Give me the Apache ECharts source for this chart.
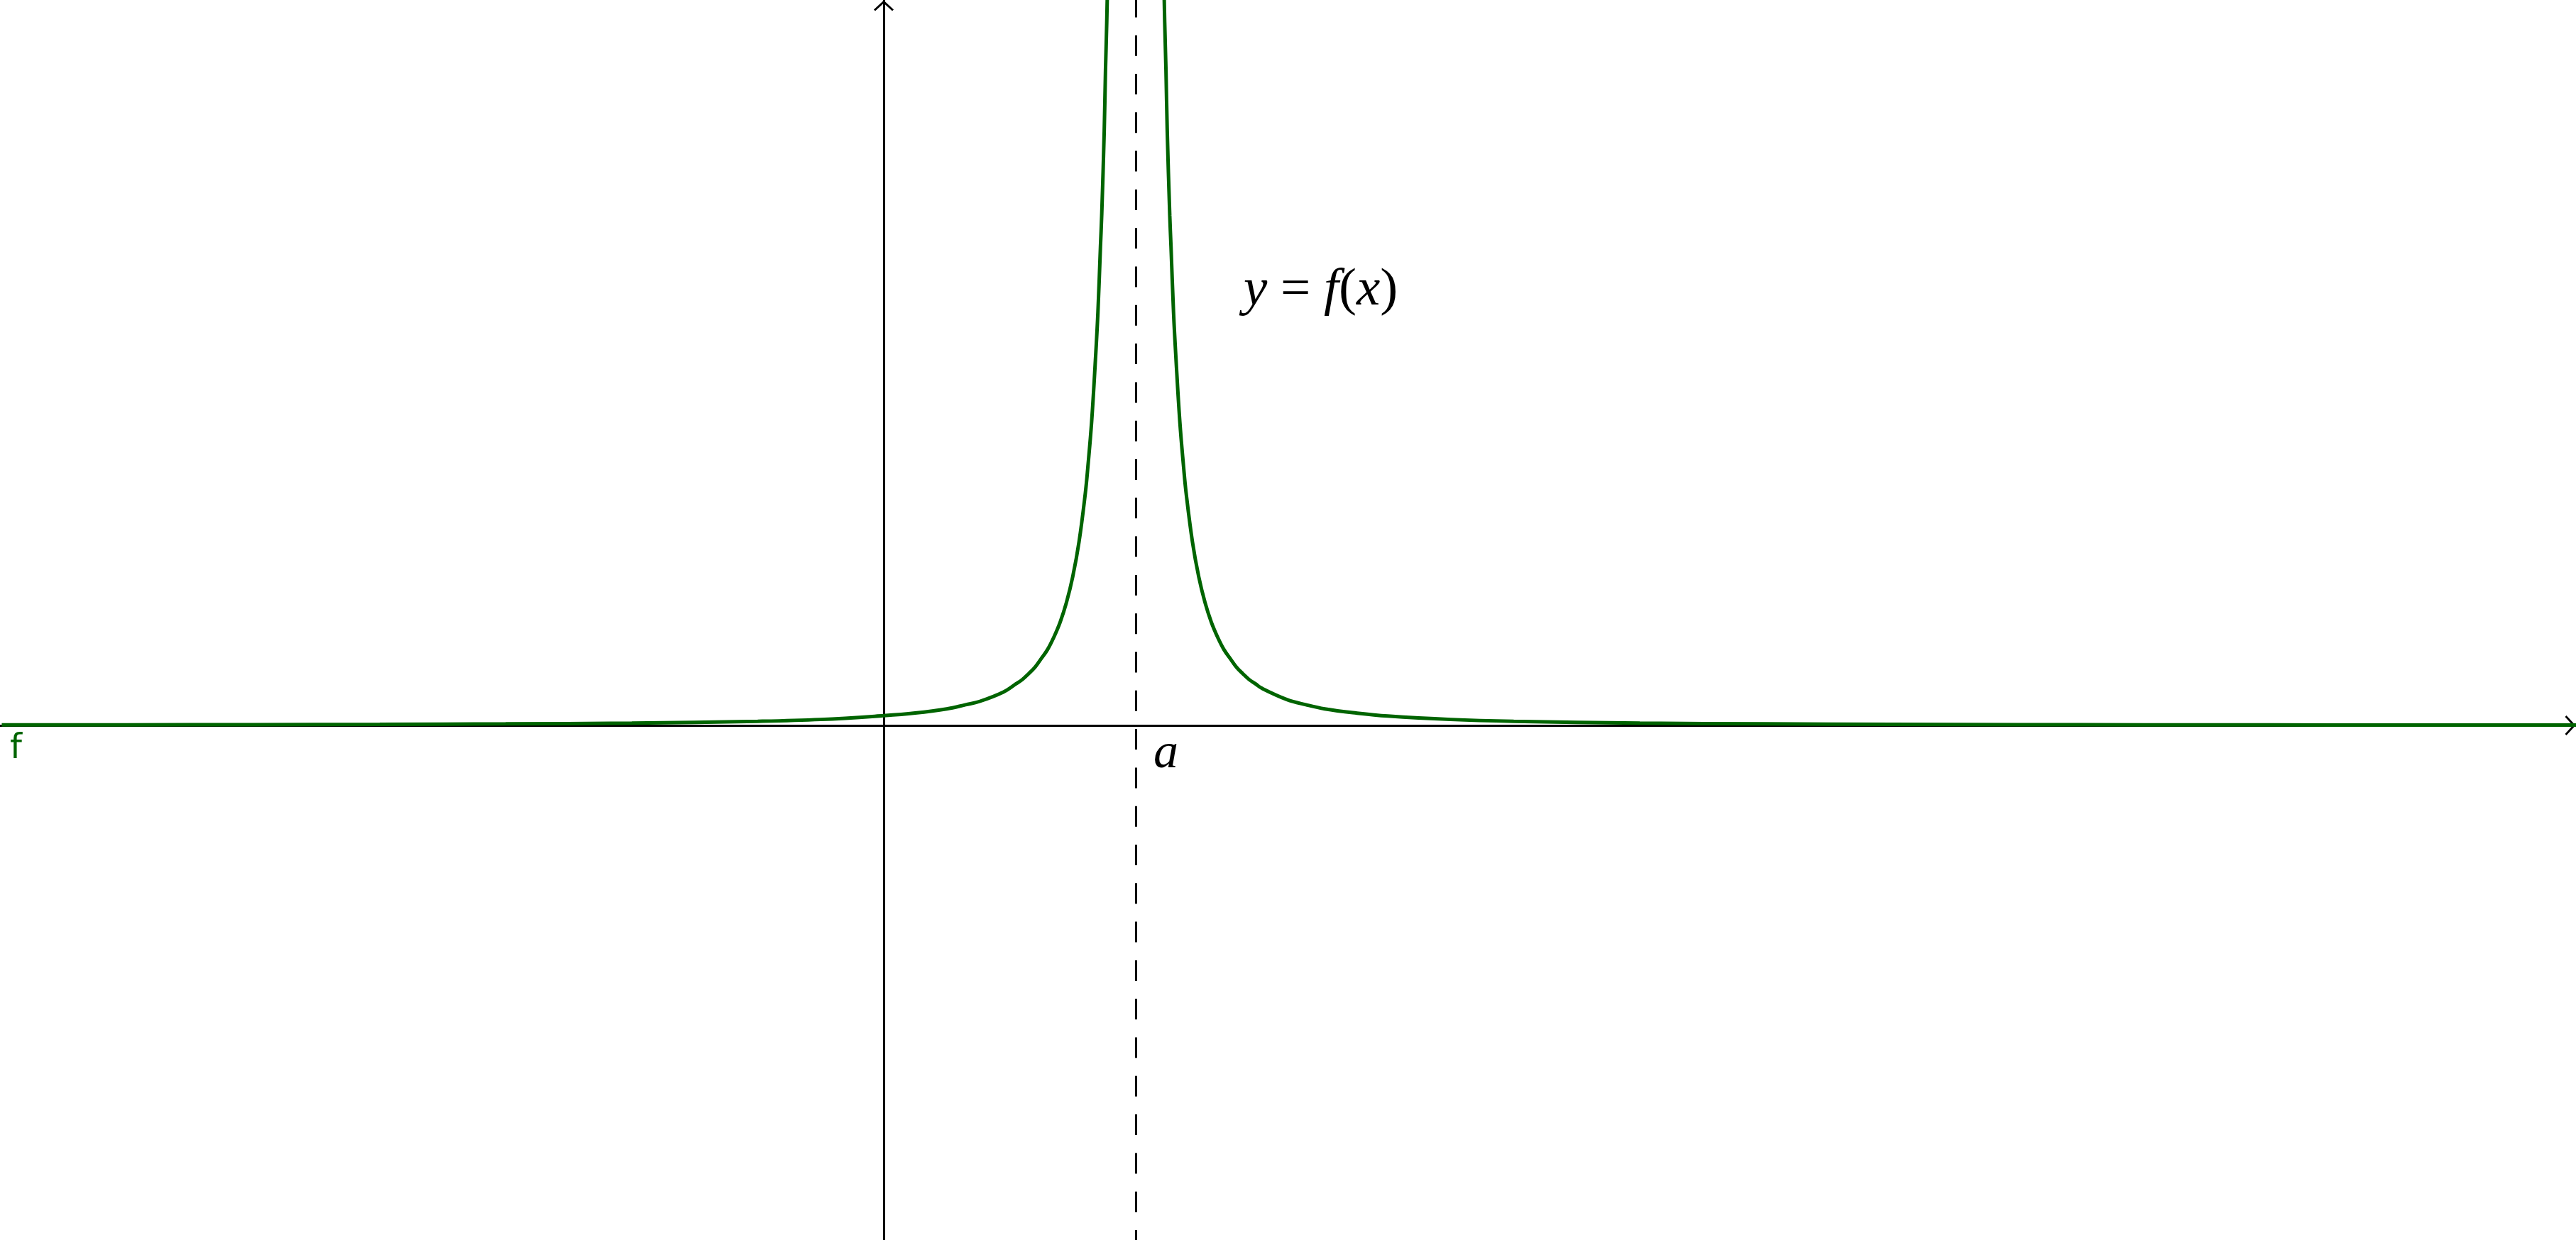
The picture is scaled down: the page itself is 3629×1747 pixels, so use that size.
<!DOCTYPE html>
<html>
<head>
<meta charset="utf-8">
<script src="https://cdn.jsdelivr.net/npm/echarts@6/dist/echarts.min.js"></script>
<style>
html,body{margin:0;padding:0;background:#fff;}
#c{width:3629px;height:1747px;}
</style>
</head>
<body>
<div id="c"></div>
<script>
// Asymptote position (x = a)
var asymptoteX = 2;
// Left branch of f (x < a)
var leftX = [-7.0, -6.0, -5.0, -4.0, -3.0, -2.0, -1.0, -0.5, 0.0, 0.25, 0.5, 0.65, 0.76, 0.95, 1.05, 1.1, 1.15, 1.2, 1.25, 1.3, 1.35, 1.4, 1.45, 1.5, 1.55, 1.6, 1.62, 1.65, 1.68, 1.7, 1.72, 1.73, 1.75, 1.76, 1.77, 1.78];
var leftY = [0.0036, 0.0046, 0.006, 0.0082, 0.0118, 0.0184, 0.0328, 0.047, 0.077, 0.098, 0.131, 0.164, 0.19, 0.265, 0.33, 0.364, 0.41, 0.461, 0.53, 0.602, 0.70, 0.819, 0.975, 1.18, 1.457, 1.844, 2.05, 2.41, 2.9, 3.28, 3.8, 4.05, 4.72, 5.2, 5.58, 6.1];
// Right branch of f (x > a)
var rightX = [2.22, 2.23, 2.24, 2.25, 2.27, 2.28, 2.3, 2.32, 2.35, 2.38, 2.4, 2.45, 2.5, 2.55, 2.6, 2.65, 2.7, 2.75, 2.8, 2.85, 2.9, 2.95, 3.0, 3.2, 3.35, 3.5, 3.75, 4.0, 4.5, 5.0, 6.0, 7.0, 8.0, 9.0, 10.0, 11.0, 12.0, 13.5];
var rightY = [6.1, 5.58, 5.2, 4.72, 4.05, 3.8, 3.28, 2.9, 2.41, 2.05, 1.844, 1.457, 1.18, 0.975, 0.819, 0.70, 0.602, 0.53, 0.461, 0.41, 0.364, 0.33, 0.295, 0.205, 0.164, 0.131, 0.098, 0.074, 0.047, 0.0328, 0.0184, 0.0118, 0.0082, 0.006, 0.0046, 0.0036, 0.0029, 0.0022];
// Text labels
var curveName = 'f';
var asymptoteLabel = 'a';

function zip(xs, ys) { return xs.map(function (x, i) { return [x, ys[i]]; }); }

var chevron = 'path://M14,0 L28,13 L26,15 L14,4 L2,15 L0,13 Z';
var axisLineCommon = {
  show: true,
  onZero: true,
  symbol: ['none', chevron],
  symbolSize: [28, 15],
  symbolOffset: [0, -8],
  lineStyle: { color: '#000', width: 3 }
};

var chart = echarts.init(document.getElementById('c'), null, { renderer: 'canvas' });
var greenColor = '#006400';
chart.setOption({
  backgroundColor: '#ffffff',
  animation: false,
  grid: { left: 0, right: 0, top: 0, bottom: 0, containLabel: false },
  xAxis: {
    type: 'value', min: -7.014, max: 13.431,
    axisLine: axisLineCommon,
    axisTick: { show: false }, axisLabel: { show: false }, splitLine: { show: false }
  },
  yAxis: {
    type: 'value', min: -4.085, max: 5.758,
    axisLine: axisLineCommon,
    axisTick: { show: false }, axisLabel: { show: false }, splitLine: { show: false }
  },
  series: [
    {
      type: 'line', name: curveName, data: zip(leftX, leftY),
      showSymbol: false, smooth: 0.4, clip: true,
      lineStyle: { color: greenColor, width: 5 }, z: 5,
      markLine: {
        silent: true, symbol: ['none', 'none'], label: { show: false },
        lineStyle: { color: '#000', width: 3, type: [29, 25.3], dashOffset: 15 },
        data: [{ xAxis: asymptoteX }]
      }
    },
    {
      type: 'line', name: curveName, data: zip(rightX, rightY),
      showSymbol: false, smooth: 0.4, clip: true,
      lineStyle: { color: greenColor, width: 5 }, z: 5
    }
  ],
  graphic: [
    {
      type: 'text', x: 1752, y: 447,
      style: {
        text: '{i|y}{n| = }{i|f}{n|(}{i|x}{n|)}',
        verticalAlign: 'bottom', align: 'left',
        rich: {
          i: { fontFamily: 'Liberation Serif', fontStyle: 'italic', fontSize: 75, fill: '#000' },
          n: { fontFamily: 'Liberation Serif', fontSize: 75, fill: '#000' }
        }
      }
    },
    {
      type: 'text', x: 1625, y: 1098,
      style: { text: asymptoteLabel, font: 'italic 70px "Liberation Serif"', fill: '#000', verticalAlign: 'bottom', align: 'left' }
    },
    {
      type: 'text', x: 14, y: 1080,
      style: { text: curveName, font: '48px "DejaVu Sans"', fill: greenColor, verticalAlign: 'bottom', align: 'left' }
    }
  ]
});
</script>
</body>
</html>
